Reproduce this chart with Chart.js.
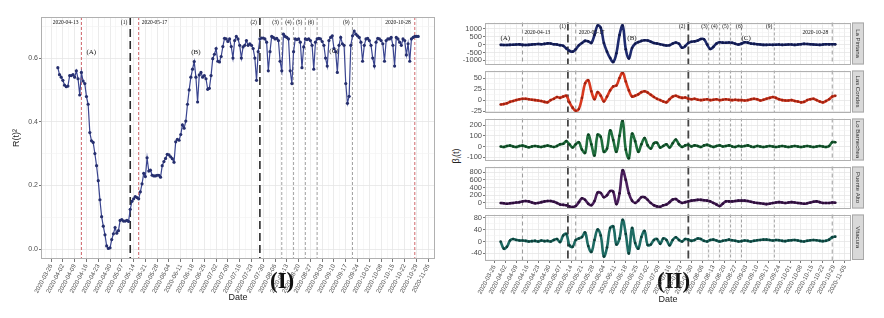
<!DOCTYPE html>
<html>
<head>
<meta charset="utf-8">
<script src="https://cdn.jsdelivr.net/npm/chart.js@4.4.1/dist/chart.umd.min.js"></script>
<style>
html,body{margin:0;padding:0;background:#fff;}
body{width:884px;height:318px;position:relative;overflow:hidden;font-family:"Liberation Sans",Arial,sans-serif;}
canvas{position:absolute;display:block;}
.txt{position:absolute;white-space:nowrap;color:#111;line-height:1;}
</style>
</head>
<body>
<canvas id="left" width="450" height="318" style="left:0;top:0;width:450px;height:318px"></canvas>
<div class="txt" style="left:270px;top:268px;font:bold 23px 'Liberation Serif',serif;">(I)</div>
<div class="txt" style="left:657px;top:268px;font:bold 23px 'Liberation Serif',serif;">(II)</div>
<div class="txt" style="left:457px;top:156px;font-size:9px;color:#222;transform:translate(-50%,-50%) rotate(-90deg);">β<sub style="font-size:6px">i</sub>(t)</div>
<script>
// ---------------- DATA ----------------
const xRange = ['2020-03-20', '2020-11-09'];
const tickLabels = ['2020-03-26','2020-04-02','2020-04-09','2020-04-16','2020-04-23','2020-04-30','2020-05-07','2020-05-14','2020-05-21','2020-05-28','2020-06-04','2020-06-11','2020-06-18','2020-06-25','2020-07-02','2020-07-09','2020-07-16','2020-07-23','2020-07-30','2020-08-06','2020-08-13','2020-08-20','2020-08-27','2020-09-03','2020-09-10','2020-09-17','2020-09-24','2020-10-01','2020-10-08','2020-10-15','2020-10-22','2020-10-29','2020-11-05'];

// Left panel: R(t)^2, one value per day starting at leftStart
const leftStart = '2020-03-30';
const rSquared = [
 .570,.548,.540,.530,.515,.510,.512,.545,.545,.548,
 .540,.560,.535,.484,.555,.528,.520,.479,.455,.366,
 .340,.335,.300,.262,.215,.155,.102,.072,.045,.010,
 .002,.004,.030,.048,.068,.050,.058,.090,.093,.088,
 .088,.090,.087,.125,.150,.158,.165,.162,.158,.180,
 .205,.238,.228,.287,.245,.248,.232,.230,.230,.232,
 .232,.226,.262,.275,.285,.298,.296,.290,.284,.273,
 .337,.345,.342,.360,.390,.380,.402,.455,.500,.540,
 .565,.589,.540,.462,.547,.555,.540,.545,.535,.502,
 .505,.545,.598,.612,.630,.590,.588,.605,.636,.662,
 .660,.652,.660,.636,.600,.655,.668,.660,.640,.600,
 .635,.640,.655,.640,.645,.640,.630,.600,.530,.620,
 .660,.663,.663,.660,.650,.560,.620,.668,.665,.660,
 .662,.655,.590,.560,.675,.668,.665,.660,.560,.520,
 .620,.660,.658,.660,.650,.570,.635,.660,.658,.660,
 .655,.640,.565,.650,.660,.662,.660,.652,.640,.600,
 .575,.655,.665,.670,.630,.620,.555,.640,.665,.645,
 .640,.520,.458,.480,.640,.670,.685,.675,.670,.665,
 .650,.590,.640,.660,.662,.655,.640,.600,.575,.650,
 .662,.660,.655,.645,.590,.655,.660,.660,.665,.640,
 .575,.665,.660,.650,.640,.660,.655,.610,.645,.590,
 .660,.665,.668,.668,.668
];
const leftYTicks = [0, 0.2, 0.4, 0.6];
const leftYRange = [-0.031, 0.729];

// Right panel: beta_i(t), one value every rightStepDays starting at rightStart
const rightStart = '2020-03-30';
const rightStepDays = 2;
const laPintana = [
 -20,-25,-30,-20,-10,0,10,-20,-30,-20,
 0,20,30,20,40,70,60,20,0,-40,
 -80,-250,-400,-450,-300,-50,100,230,200,100,
 600,1200,1060,100,-450,-850,-1100,-550,600,1200,
 -300,-880,-220,50,150,230,270,250,180,100,
 60,20,-30,-60,-40,60,130,50,-200,-100,
 100,180,200,250,350,330,0,-280,-150,60,
 140,120,110,130,110,50,0,60,140,120,
 60,40,20,0,-20,-20,-10,-20,-10,0,
 -20,-10,0,0,-20,0,20,40,30,20,
 0,-10,-20,0,20,10,20,10
];
const lasCondes = [
 -10,-9,-7,-4,-2,0,2,3,3,2,
 1,0,-1,-2,-4,-5,0,3,7,5,
 8,10,-5,-17,-24,-20,5,38,45,20,
 2,18,10,-3,8,22,31,33,50,62,
 42,22,8,10,13,18,20,17,12,7,
 3,0,-3,-5,2,8,10,7,5,6,
 3,2,3,1,0,1,2,0,1,2,
 0,1,2,1,0,1,0,0,-1,0,
 2,3,2,-1,1,3,5,7,5,2,
 0,-1,-1,0,-2,-3,-5,-4,0,2,
 3,0,-3,-5,-2,2,8,10
];
const loBarnechea = [
 0,-5,5,8,0,-5,5,8,0,-8,
 0,5,0,-5,3,8,2,-5,5,20,
 25,50,20,-10,20,40,-30,-60,110,20,
 -85,110,90,-50,-20,150,60,-50,100,240,
 -30,-110,120,50,-50,20,80,10,-20,30,
 35,-10,5,20,-10,30,65,20,-5,10,
 15,0,10,5,-5,10,15,5,-5,5,
 10,0,5,10,0,-5,5,0,5,10,
 0,-5,5,0,-5,0,5,0,-5,0,
 5,0,-5,0,5,0,-5,0,5,0,
 -5,0,5,0,-5,5,40,40
];
const puenteAlto = [
 0,-10,-20,-10,0,10,20,40,50,40,
 10,-10,0,20,40,50,50,30,0,-40,
 -50,-60,-90,-110,-80,20,120,80,-20,-60,
 50,270,260,150,200,310,290,-30,250,850,
 600,250,60,0,60,150,150,80,0,-60,
 -90,-100,-60,-40,20,90,100,40,0,20,
 40,60,70,80,80,70,60,40,0,-40,
 -80,-20,40,40,40,50,60,60,60,50,
 30,10,0,-10,-20,-30,-20,0,10,20,
 10,0,10,20,10,0,-10,-20,-10,10,
 30,40,20,0,0,0,10,5
];
const vitacura = [
 0,-24,-18,3,8,5,3,3,2,0,
 1,2,0,3,1,2,0,5,8,-2,
 20,25,-13,-18,5,10,15,30,-15,-35,
 5,40,20,-50,-20,45,50,-10,10,72,
 25,-40,45,-5,-24,15,35,-12,-10,5,
 8,-8,10,5,-13,5,14,5,0,8,
 6,2,5,10,8,2,0,5,6,3,
 0,2,4,6,4,2,0,1,3,2,
 0,2,4,5,6,6,5,3,5,4,
 2,1,3,4,5,3,1,0,2,4,
 5,4,2,1,2,6,14,16
];
const communeNames = ['La Pintana','Las Condes','Lo Barnechea','Puente Alto','Vitacura'];
const communeSeries = [laPintana, lasCondes, loBarnechea, puenteAlto, vitacura];
const communeYTicks = [[-1000,-500,0,500,1000],[-25,0,25,50],[-100,0,100,200],[0,200,400,600,800],[-40,0,40,80]];
const communeYRange = [[-1260,1390],[-28,67],[-132,263],[-145,950],[-62,90]];

// Event lines
const eventDates = ['2020-04-13','2020-05-12','2020-05-17','2020-07-28','2020-08-10','2020-08-17','2020-08-24','2020-08-31','2020-09-21','2020-10-28'];
const eventKinds = ['date','phase','date','phase','minor','minor','minor','minor','minor','date'];

// ---------------- STYLE / LAYOUT ----------------
const communeColors = ['#1f2b6e','#d8391f','#1f6d3c','#4a1f5c','#1e6b63'];
const communePointColors = ['#10184a','#9c2212','#0e4222','#2b0e38','#0d3e39'];
const leftLineStyles = {date:{c:'#d0676c',w:1,d:[3,2]}, phase:{c:'#2a2a2a',w:1.6,d:[8,4]}, minor:{c:'#9a9a9a',w:0.9,d:[3,2]}};
const rightLineStyles = {date:{c:'#9a9a9a',w:1,d:[4,3]}, phase:{c:'#444444',w:1.8,d:[8,4]}, minor:{c:'#9a9a9a',w:0.9,d:[3,2]}};
const leftNotes = [
 {t:'2020-04-13', at:'2020-04-13', a:'right', dx:-3, dy:6, s:5.5},
 {t:'(1)', at:'2020-05-12', a:'right', dx:-3, dy:6, s:5.5},
 {t:'2020-05-17', at:'2020-05-17', a:'left', dx:3, dy:6, s:5.5},
 {t:'(A)', at:'2020-04-13', a:'left', dx:5, dy:35, s:7},
 {t:'(B)', at:'2020-06-20', a:'center', dx:0, dy:35, s:7},
 {t:'(2)', at:'2020-07-28', a:'right', dx:-3, dy:6, s:5.5},
 {t:'(3)', at:'2020-08-10', a:'right', dx:-3, dy:6, s:5.5},
 {t:'(4)', at:'2020-08-17', a:'right', dx:-2, dy:6, s:5.5},
 {t:'(5)', at:'2020-08-24', a:'right', dx:-3, dy:6, s:5.5},
 {t:'(6)', at:'2020-08-31', a:'right', dx:-3, dy:6, s:5.5},
 {t:'(9)', at:'2020-09-21', a:'right', dx:-3, dy:6, s:5.5},
 {t:'(C)', at:'2020-09-10', a:'center', dx:0, dy:34, s:7},
 {t:'2020-10-28', at:'2020-10-28', a:'right', dx:-4, dy:6, s:5.5}
];
const rightNotes = [
 {t:'(A)', at:'2020-04-02', a:'center', dx:0, dy:16, s:7},
 {t:'2020-04-13', at:'2020-04-13', a:'left', dx:2, dy:10, s:5.5},
 {t:'(1)', at:'2020-05-12', a:'right', dx:-2, dy:4, s:5.5},
 {t:'2020-05-17', at:'2020-05-17', a:'left', dx:3, dy:10, s:5.5},
 {t:'(B)', at:'2020-06-22', a:'center', dx:0, dy:16, s:7},
 {t:'(2)', at:'2020-07-28', a:'right', dx:-3, dy:4, s:5.5},
 {t:'(3)', at:'2020-08-10', a:'right', dx:-1, dy:4, s:5.5},
 {t:'(4)', at:'2020-08-17', a:'right', dx:-2, dy:4, s:5.5},
 {t:'(5)', at:'2020-08-24', a:'right', dx:-2, dy:4, s:5.5},
 {t:'(6)', at:'2020-08-31', a:'right', dx:1, dy:4, s:5.5},
 {t:'(C)', at:'2020-09-03', a:'center', dx:0, dy:16, s:7},
 {t:'(9)', at:'2020-09-21', a:'right', dx:-2, dy:4, s:5.5},
 {t:'2020-10-28', at:'2020-10-28', a:'right', dx:-4, dy:10, s:5.5}
];

// ---------------- HELPERS ----------------
const DAY = 86400000;
const ORIGIN = Date.parse(tickLabels[0]);
const dayOf = s => (Date.parse(s) - ORIGIN) / DAY;
const labelByDay = new Map(tickLabels.map(l => [dayOf(l), l]));

Chart.defaults.font.family = '"Liberation Sans", Arial, sans-serif';
Chart.defaults.color = '#4d4d4d';

function withMinor(majors, min, max) {
  const step = majors[1] - majors[0];
  const out = [];
  majors.forEach(v => { out.push({value: v, major: true}); });
  let v = majors[0] - step / 2;
  while (v >= min) { out.push({value: v, major: false}); v -= step / 2; if (v >= min && !majors.includes(v)) {} }
  for (let i = 0; i < majors.length; i++) out.push({value: majors[i] + step / 2, major: false});
  for (let w = majors[majors.length - 1] + step; w <= max; w += step) out.push({value: w, major: false});
  return out.filter(t => t.value >= min && t.value <= max).sort((a, b) => a.value - b.value);
}

function xScale(showTicks, fitHeight, titlePad) {
  return {
    type: 'linear',
    min: dayOf(xRange[0]), max: dayOf(xRange[1]),
    afterBuildTicks: s => { s.ticks = withMinor(tickLabels.map(dayOf), s.min, s.max); },
    afterFit: s => { s.height = fitHeight; },
    ticks: {
      display: showTicks, autoSkip: false, minRotation: 62, maxRotation: 62,
      font: {size: 6.2}, color: '#4d4d4d', padding: 1,
      callback: (v, i, ticks) => (ticks[i] && ticks[i].major) ? (labelByDay.get(v) || '') : ''
    },
    grid: {
      color: c => (c.tick && c.tick.major) ? '#e6e6e6' : '#f2f2f2',
      lineWidth: c => (c.tick && c.tick.major) ? 0.8 : 0.6,
      drawTicks: showTicks, tickLength: 3,
      tickColor: c => (c.tick && c.tick.major) ? '#555' : 'rgba(0,0,0,0)'
    },
    border: {display: false},
    title: showTicks ? {display: true, text: 'Date', font: {size: 9}, color: '#222', padding: {top: 0, bottom: titlePad}} : {display: false}
  };
}

function yScale(majors, range, width, fontSize, fmt, title) {
  return {
    type: 'linear', min: range[0], max: range[1],
    afterBuildTicks: s => { s.ticks = withMinor(majors, s.min, s.max); },
    afterFit: s => { s.width = width; },
    ticks: {
      autoSkip: false, font: {size: fontSize}, color: '#4d4d4d', padding: 1,
      callback: (v, i, ticks) => (ticks[i] && ticks[i].major) ? fmt(v) : ''
    },
    grid: {
      color: c => (c.tick && c.tick.major) ? '#e6e6e6' : '#f2f2f2',
      lineWidth: c => (c.tick && c.tick.major) ? 0.8 : 0.6,
      tickLength: 2,
      tickColor: c => (c.tick && c.tick.major) ? '#555' : 'rgba(0,0,0,0)'
    },
    border: {display: false},
    title: title || {display: false}
  };
}

function drawEventLines(chart, styles) {
  const {ctx, chartArea: {top, bottom}, scales: {x}} = chart;
  eventDates.forEach((d, i) => {
    const st = styles[eventKinds[i]];
    const px = x.getPixelForValue(dayOf(d));
    ctx.save();
    ctx.strokeStyle = st.c; ctx.lineWidth = st.w; ctx.setLineDash(st.d);
    ctx.beginPath(); ctx.moveTo(px, top); ctx.lineTo(px, bottom); ctx.stroke();
    ctx.restore();
  });
}
function drawNotes(chart, notes) {
  const {ctx, chartArea: {top}, scales: {x}} = chart;
  ctx.save();
  ctx.fillStyle = '#111';
  ctx.textBaseline = 'middle';
  notes.forEach(n => {
    ctx.font = n.s + 'px "Liberation Serif", serif';
    ctx.textAlign = n.a;
    ctx.fillText(n.t, x.getPixelForValue(dayOf(n.at)) + n.dx, top + n.dy);
  });
  ctx.restore();
}
function drawBorder(chart) {
  const {ctx, chartArea: {left, top, right, bottom}} = chart;
  ctx.save();
  ctx.strokeStyle = '#b0b0b0'; ctx.lineWidth = 1;
  ctx.strokeRect(Math.round(left) + 0.5, Math.round(top) + 0.5, Math.round(right - left) - 1, Math.round(bottom - top) - 1);
  ctx.restore();
}

// ---------------- LEFT CHART ----------------
const leftPoints = rSquared.map((v, i) => ({x: dayOf(leftStart) + i, y: v}));
new Chart(document.getElementById('left'), {
  type: 'line',
  data: {datasets: [{data: leftPoints, borderColor: '#3a4590', borderWidth: 1.2, pointRadius: 1.6,
    pointBackgroundColor: '#262f6e', pointBorderWidth: 0, tension: 0, fill: false}]},
  options: {
    responsive: false, animation: false, events: [],
    layout: {padding: {top: 17, right: 15, bottom: 0, left: 0}},
    plugins: {legend: {display: false}, tooltip: {enabled: false}},
    scales: {
      x: xScale(true, 59, 14.6),
      y: yScale(leftYTicks, leftYRange, 41, 7, v => v.toFixed(1),
        {display: true, text: 'R(t)²', font: {size: 9}, color: '#222', padding: {top: 11.6, bottom: 0}})
    }
  },
  plugins: [{
    id: 'leftDecor',
    beforeDatasetsDraw: c => drawEventLines(c, leftLineStyles),
    afterDatasetsDraw: c => drawNotes(c, leftNotes),
    afterDraw: c => drawBorder(c)
  }]
});

// ---------------- RIGHT CHARTS ----------------
const panelTop0 = 22, panelH = 46, panelStride = 48, padTop = 5, rightCanvasLeft = 450, rightCanvasW = 434;
communeSeries.forEach((series, p) => {
  const last = p === communeSeries.length - 1;
  const cTop = panelTop0 + p * panelStride - padTop;
  const cH = last ? 318 - cTop : padTop + panelH + 2;
  const cv = document.createElement('canvas');
  cv.width = rightCanvasW; cv.height = cH;
  cv.style.left = rightCanvasLeft + 'px'; cv.style.top = cTop + 'px';
  cv.style.width = rightCanvasW + 'px'; cv.style.height = cH + 'px';
  document.body.appendChild(cv);
  const pts = series.map((v, i) => ({x: dayOf(rightStart) + i * rightStepDays, y: v}));
  const rp = communeYTicks[p];
  new Chart(cv, {
    type: 'line',
    data: {datasets: [{data: pts, borderColor: communeColors[p], borderWidth: 2.6, pointRadius: 1.3,
      pointBackgroundColor: communePointColors[p], pointBorderWidth: 0, tension: 0.4, fill: false}]},
    options: {
      responsive: false, animation: false, events: [],
      layout: {padding: {top: padTop, right: 33, bottom: last ? 0 : 2, left: 0}},
      plugins: {legend: {display: false}, tooltip: {enabled: false}},
      scales: {
        x: xScale(last, last ? cH - padTop - panelH : 0, 12.6),
        y: yScale(rp, communeYRange[p], 35, 7.5, v => String(v))
      }
    },
    plugins: [{
      id: 'rightDecor' + p,
      beforeDatasetsDraw: c => drawEventLines(c, rightLineStyles),
      afterDatasetsDraw: c => { if (p === 0) drawNotes(c, rightNotes); },
      afterDraw: c => {
        drawBorder(c);
        const {ctx, chartArea: {top, bottom, right}} = c;
        ctx.save();
        ctx.fillStyle = '#d9d9d9'; ctx.strokeStyle = '#a8a8a8'; ctx.lineWidth = 1;
        ctx.fillRect(right + 1, top, 12, bottom - top);
        ctx.strokeRect(right + 1.5, top + 0.5, 11, bottom - top - 1);
        ctx.translate(right + 7, (top + bottom) / 2);
        ctx.rotate(Math.PI / 2);
        ctx.fillStyle = '#333'; ctx.font = '6px "Liberation Sans", Arial, sans-serif';
        ctx.textAlign = 'center'; ctx.textBaseline = 'middle';
        ctx.fillText(communeNames[p], 0, 0);
        ctx.restore();
      }
    }]
  });
});
</script>
</body>
</html>
